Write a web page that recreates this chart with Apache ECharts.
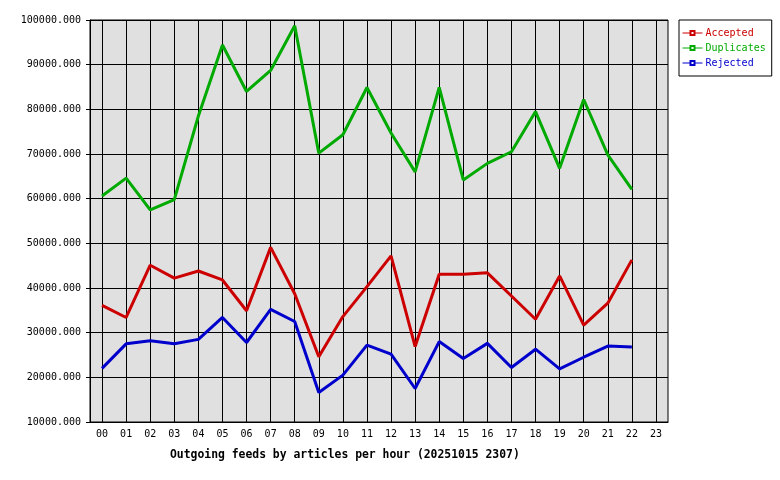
<!DOCTYPE html>
<html>
<head>
<meta charset="utf-8">
<script src="https://cdn.jsdelivr.net/npm/echarts@6/dist/echarts.min.js"></script>
<style>html,body{margin:0;padding:0;background:#fff}#c{width:780px;height:480px}</style>
</head>
<body>
<div id="c"></div>
<script>
const hours = ['00','01','02','03','04','05','06','07','08','09','10','11','12','13','14','15','16','17','18','19','20','21','22','23'];
const accepted = [36100,33400,45100,42200,43800,41800,34900,49100,38700,24600,33600,40300,47200,26900,43100,43100,43400,38200,33000,42700,31700,36600,46300];
const duplicates = [60600,64600,57500,59800,78500,94400,84000,88700,98700,70200,74300,84900,74700,66000,84900,64200,67900,70500,79500,66800,82200,69800,62100];
const rejected = [22000,27500,28200,27500,28500,33400,27800,35200,32500,16600,20500,27200,25200,17500,28000,24200,27600,22200,26300,21900,24500,27000,26800];
const yMin = 10000, yMax = 100000, yStep = 10000;
const titleText = 'Outgoing feeds by articles per hour (20251015 2307)';

const mono = 'DejaVu Sans Mono';
const chart = echarts.init(document.getElementById('c'));
function ser(name, data, color) {
  return {
    name, type: 'line', data, symbol: 'emptyRect', symbolSize: 4, showSymbol: false,
    lineStyle: { color, width: 3 }, itemStyle: { color },
    animation: false, silent: true
  };
}
chart.setOption({
  animation: false,
  backgroundColor: '#ffffff',
  title: {
    text: titleText, left: 165, top: 445,
    textStyle: { fontFamily: mono, fontSize: 11.4, fontWeight: 'bold', color: '#000' }
  },
  legend: {
    orient: 'vertical', left: 679, top: 20,
    borderColor: '#000', borderWidth: 1,
    padding: [7, 6, 7, 3], itemGap: 3, itemWidth: 20, itemHeight: 5,
    lineStyle: { width: 1 },
    itemStyle: { borderWidth: 1 },
    textStyle: { fontFamily: mono, fontSize: 10, lineHeight: 12, padding: [0, 0, 0, -2] },
    data: [
      { name: 'Accepted', textStyle: { color: '#cc0000' } },
      { name: 'Duplicates', textStyle: { color: '#00aa00' } },
      { name: 'Rejected', textStyle: { color: '#0000cc' } }
    ]
  },
  grid: { left: 90, top: 20, width: 578, height: 402, show: true, backgroundColor: '#e0e0e0', borderColor: '#000', borderWidth: 1 },
  xAxis: {
    type: 'category', data: hours, boundaryGap: true,
    axisLine: { lineStyle: { color: '#000', width: 1 } },
    axisTick: { alignWithLabel: true, length: 4, lineStyle: { color: '#000' } },
    axisLabel: { fontFamily: mono, fontSize: 10, color: '#000', margin: 7, interval: 0 },
    splitLine: { show: true, alignWithLabel: true, interval: 0, lineStyle: { color: '#000', width: 1 } }
  },
  yAxis: {
    type: 'value', min: yMin, max: yMax, interval: yStep,
    axisLine: { show: true, lineStyle: { color: '#000' } },
    axisTick: { show: true, length: 4, lineStyle: { color: '#000' } },
    axisLabel: { fontFamily: mono, fontSize: 10, color: '#000', margin: 9, formatter: v => v.toFixed(3) },
    splitLine: { show: true, lineStyle: { color: '#000', width: 1 } }
  },
  series: [
    ser('Accepted', accepted, '#cc0000'),
    ser('Duplicates', duplicates, '#00aa00'),
    ser('Rejected', rejected, '#0000cc')
  ]
});
</script>
</body>
</html>
